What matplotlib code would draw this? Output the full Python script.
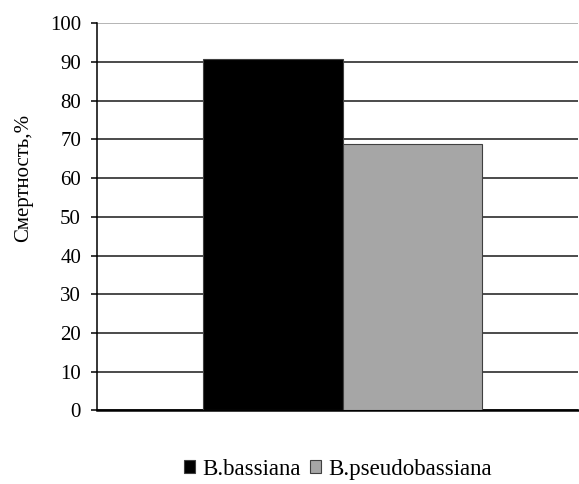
import numpy as np
import matplotlib.pyplot as plt

# mortality by strain, %
strains = ['B.bassiana', 'B.pseudobassiana']
mortality = [90.7, 68.8]
colors = ['#000000', '#a6a6a6']
yticks = list(range(0, 101, 10))

plt.rcParams['font.family'] = ['Liberation Serif', 'DejaVu Serif']

fig = plt.figure(figsize=(5.79, 4.84), dpi=100)
ax = fig.add_axes([0.1675, 0.152, 0.8315, 0.800])

width = 0.29
offsets = [-width / 2, width / 2]
for name, val, c, dx in zip(strains, mortality, colors, offsets):
    ax.bar(0.01 + dx, val, width=width, color=c, edgecolor='#404040',
           linewidth=0.8, label=name, zorder=3)

ax.set_xlim(-0.5, 0.5)
ax.set_ylim(0, 100)
ax.set_yticks(yticks)
ax.set_xticks([])

ax.yaxis.grid(True, color='#1a1a1a', linewidth=1.1)
ax.set_axisbelow(True)
ax.get_ygridlines()[-1].set_color('#a0a0a0')

for s in ['top', 'right']:
    ax.spines[s].set_visible(False)
ax.spines['left'].set_linewidth(1.1)
ax.spines['bottom'].set_linewidth(1.8)
ax.tick_params(axis='y', direction='out', length=4.5, width=1.1, labelsize=15, pad=7)

ax.set_ylabel('Смертность,%', fontsize=15)
ax.yaxis.set_label_coords(-0.133, 0.60)

fig.legend(loc='center', bbox_to_anchor=(0.583, 0.030), ncol=2, frameon=False,
           fontsize=16.5, handlelength=0.5, handleheight=0.5, handletextpad=0.3,
           columnspacing=0.4)

fig.savefig('out.png', dpi=100)
